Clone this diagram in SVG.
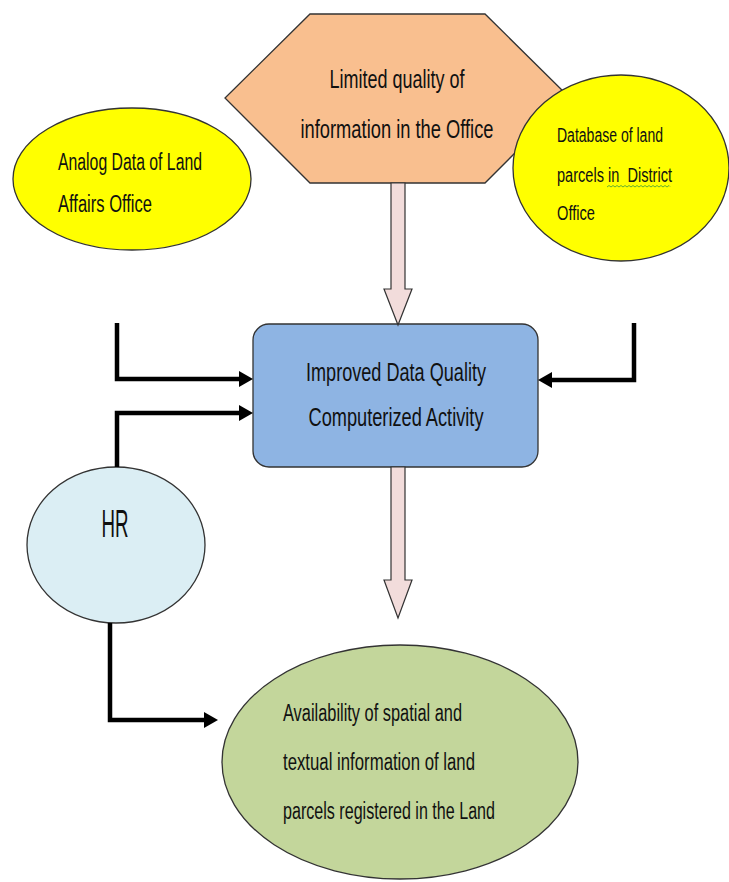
<svg xmlns="http://www.w3.org/2000/svg" width="729" height="882" viewBox="0 0 729 882">
<defs>
<style>
.t{font-family:"Liberation Sans",Arial,sans-serif;fill:#111;}
.shape{stroke:#333;stroke-width:1.3;}
.conn{fill:none;stroke:#000;stroke-width:4.5;marker-end:url(#ah);}
.block{fill:#f2dcdb;stroke:#333;stroke-width:1.2;stroke-linejoin:miter;}
</style>
<marker id="ah" markerUnits="userSpaceOnUse" markerWidth="14" markerHeight="16" viewBox="0 0 14 16" refX="4" refY="8" orient="auto">
<path d="M0,0 L14,8 L0,16 z" fill="#000"/>
</marker>
</defs>
<rect width="729" height="882" fill="#fff"/>

<g id="limited-quality">
<polygon class="shape" points="310,14 485,14 570,98 485,183 310,183 225,98" fill="#f9bf8f"/>
<text class="t" x="397" y="88" font-size="25" text-anchor="middle" textLength="135" lengthAdjust="spacingAndGlyphs">Limited quality of</text>
<text class="t" x="397" y="138" font-size="25" text-anchor="middle" textLength="193" lengthAdjust="spacingAndGlyphs">information in the Office</text>
</g>

<g id="analog-data">
<ellipse class="shape" cx="132" cy="179" rx="119" ry="71" fill="#ffff00"/>
<text class="t" x="58" y="170" font-size="23" textLength="144" lengthAdjust="spacingAndGlyphs">Analog Data of Land</text>
<text class="t" x="58" y="212" font-size="23" textLength="94" lengthAdjust="spacingAndGlyphs">Affairs Office</text>
</g>

<g id="database">
<ellipse class="shape" cx="621" cy="168" rx="108" ry="93" fill="#ffff00"/>
<text class="t" x="557" y="142" font-size="20" textLength="106" lengthAdjust="spacingAndGlyphs">Database of land</text>
<text class="t" x="557" y="182" font-size="20" textLength="115" lengthAdjust="spacingAndGlyphs" xml:space="preserve" style="white-space:pre">parcels in  District</text>
<text class="t" x="557" y="220" font-size="20" textLength="38" lengthAdjust="spacingAndGlyphs">Office</text>
<path d="M607,187 l2,-1.5 l2,1.5 l2,-1.5 l2,1.5 l2,-1.5 l2,1.5 l2,-1.5 l2,1.5 l2,-1.5 l2,1.5 l2,-1.5 l2,1.5 l2,-1.5 l2,1.5 l2,-1.5 l2,1.5 l2,-1.5 l2,1.5 l2,-1.5 l2,1.5 l2,-1.5 l2,1.5 l2,-1.5 l2,1.5 l2,-1.5 l2,1.5 l2,-1.5 l2,1.5 l2,-1.5 l2,1.5 l2,-1.5 l1,1" fill="none" stroke="#3c9a3c" stroke-width="0.8"/>
</g>

<g id="improved-data">
<rect class="shape" x="253" y="324" width="285" height="143" rx="16" fill="#8eb4e3"/>
<text class="t" x="396" y="381" font-size="25" text-anchor="middle" textLength="180" lengthAdjust="spacingAndGlyphs">Improved Data Quality</text>
<text class="t" x="396" y="426" font-size="25" text-anchor="middle" textLength="175" lengthAdjust="spacingAndGlyphs">Computerized Activity</text>
</g>

<g id="hr">
<ellipse class="shape" cx="116" cy="545" rx="89" ry="78" fill="#dbeef4"/>
<text class="t" x="115" y="537" font-size="38" text-anchor="middle" textLength="27" lengthAdjust="spacingAndGlyphs">HR</text>
</g>

<g id="availability">
<ellipse class="shape" cx="400" cy="762" rx="178" ry="117" fill="#c3d69b"/>
<text class="t" x="283" y="721" font-size="23" textLength="179" lengthAdjust="spacingAndGlyphs">Availability of spatial and</text>
<text class="t" x="283" y="770" font-size="23" textLength="192" lengthAdjust="spacingAndGlyphs">textual information of land</text>
<text class="t" x="283" y="819" font-size="23" textLength="212" lengthAdjust="spacingAndGlyphs">parcels registered in the Land</text>
</g>

<g id="connectors">
<path class="block" d="M391,183 H405 V289 H412 L398,325 L384,289 H391 Z"/>
<path class="block" d="M391,467 H405 V580 H412 L398,618 L384,580 H391 Z"/>
<path class="conn" d="M117,323 V379 H243"/>
<path class="conn" d="M117,467 V413 H243"/>
<path class="conn" d="M634,323 V380 H548"/>
<path class="conn" d="M110,623 V720 H208"/>
</g>
</svg>
